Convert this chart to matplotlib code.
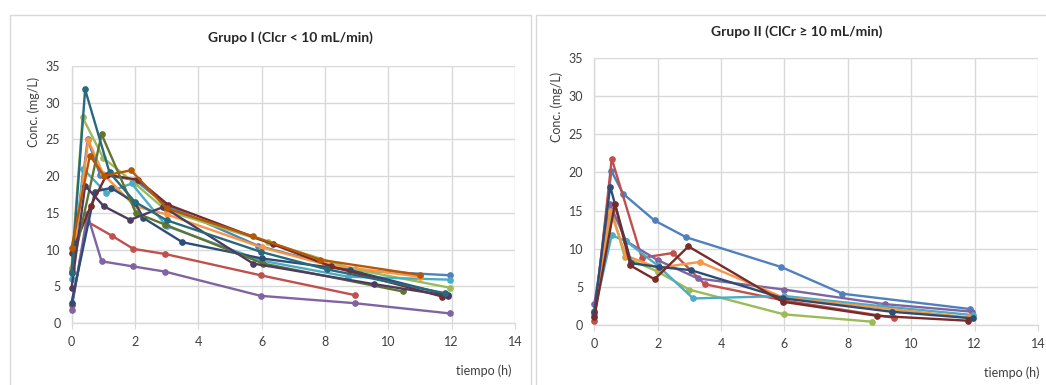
import matplotlib
matplotlib.use("Agg")
import matplotlib.pyplot as plt
from matplotlib.patches import Rectangle

plt.rcParams["font.family"] = ["Lato", "DejaVu Sans"]

# Excel 2010 palette (base colours then 50% darker variants)
COLORS = ["#4F81BD", "#C0504D", "#9BBB59", "#8064A2", "#4BACC6", "#F79646",
          "#2C4D75", "#772C2A", "#5F7530", "#4D3B62", "#276A7C", "#B65708"]

# Grupo I (Clcr < 10 mL/min): one (times, concentrations) pair per patient
g1_t = [
    [0, 0.51, 0.9, 2, 3, 5.9, 8.8, 11.95],
    [0, 0.5, 1.27, 1.95, 2.95, 5.97, 8.94],
    [0, 0.35, 1, 2, 3, 6.2, 8.95, 11.95],
    [0, 0.5, 0.95, 1.95, 2.95, 5.97, 8.94, 11.95],
    [0, 0.37, 1.1, 1.9, 3, 6, 8.73, 11.95],
    [0, 0.53, 1, 2, 3, 6, 8, 11],
    [0, 0.74, 1.25, 2, 2.27, 3.5, 6, 8.8, 11.9],
    [0, 0.6, 1.11, 2.1, 3.05, 6.37, 8.2, 11.7],
    [0, 0.95, 2.03, 2.95, 6.05, 10.45],
    [0, 0.43, 1.02, 1.85, 2.9, 5.73, 9.54, 11.9],
    [0, 0.43, 1.2, 2, 3, 5.97, 8.07, 11.8],
    [0, 0.58, 1.03, 1.88, 3, 5.73, 7.86, 11.0],
]
g1_c = [
    [7.0, 25.0, 20.2, 19.5, 16.0, 10.5, 7.2, 6.5],
    [2.45, 13.8, 11.9, 10.1, 9.4, 6.5, 3.8],
    [7.5, 28.0, 22.5, 19.0, 15.3, 11.0, 7.3, 4.8],
    [1.8, 14.8, 8.4, 7.7, 7.0, 3.7, 2.7, 1.3],
    [6.0, 21.0, 17.7, 19.0, 13.2, 8.5, 6.3, 5.9],
    [7.3, 24.9, 20.3, 15.9, 14.8, 10.3, 8.0, 6.3],
    [2.7, 17.9, 18.4, 16.4, 14.3, 11.0, 8.8, 7.2, 3.8],
    [9.5, 15.9, 20.2, 19.5, 16.1, 10.7, 7.7, 3.6],
    [7.0, 25.7, 15.0, 13.4, 8.1, 4.3],
    [4.7, 18.7, 15.9, 14.05, 15.8, 8.1, 5.3, 3.7],
    [6.8, 31.8, 20.5, 16.5, 14.0, 9.7, 7.3, 4.05],
    [10.2, 22.8, 20.05, 20.8, 15.6, 11.8, 8.6, 6.55],
]

# Grupo II (ClCr >= 10 mL/min)
g2_t = [
    [0, 0.54, 0.91, 1.9, 2.9, 5.9, 7.83, 11.85],
    [0, 0.55, 1.5, 2.49, 3.48, 6, 9.45],
    [0, 0.55, 0.96, 2, 2.99, 5.98, 8.77],
    [0, 0.5, 1, 2, 3.27, 5.98, 9.16, 11.93],
    [0, 0.55, 1, 2, 3.12, 6, 8.98, 11.95],
    [0, 0.5, 1, 2, 3.33, 5.96, 11.8],
    [0, 0.5, 1.17, 2.05, 3.04, 5.96, 9.38, 11.95],
    [0, 0.65, 1.14, 1.9, 2.97, 5.94, 8.93, 11.8],
]
g2_c = [
    [1.5, 20.2, 17.2, 13.7, 11.5, 7.6, 4.1, 2.1],
    [0.56, 21.8, 8.8, 9.45, 5.35, 3.2, 0.95],
    [1.3, 15.0, 8.9, 7.0, 4.65, 1.4, 0.43],
    [2.74, 15.8, 11.0, 8.5, 6.1, 4.65, 2.74, 1.74],
    [1.8, 11.75, 11.0, 7.8, 3.48, 3.8, 2.5, 1.3],
    [1.4, 15.0, 9.1, 7.5, 8.26, 3.6, 1.0],
    [1.7, 18.15, 8.1, 7.6, 7.2, 3.5, 1.74, 0.87],
    [1.0, 15.9, 7.8, 6.0, 10.3, 3.05, 1.2, 0.56],
]

X_TICKS = [0, 2, 4, 6, 8, 10, 12, 14]
Y_TICKS = [0, 5, 10, 15, 20, 25, 30, 35]

GRID = "#D9D9D9"
TEXT = "#404040"

fig = plt.figure(figsize=(10.46, 3.85), dpi=100)

# chart-area borders like the Excel export
fig.patches.append(Rectangle((10 / 1046, -0.05), 521 / 1046, 1 - 15 / 385 + 0.05,
                             transform=fig.transFigure, fill=False,
                             edgecolor=GRID, linewidth=1.0))
fig.patches.append(Rectangle((536 / 1046, -0.05), 520 / 1046, 1 - 15 / 385 + 0.05,
                             transform=fig.transFigure, fill=False,
                             edgecolor=GRID, linewidth=1.0))


def draw_panel(ax, times, concs):
    for t, c, col in zip(times, concs, COLORS):
        ax.plot(t, c, color=col, linewidth=1.7, marker="o", markersize=3.8,
                zorder=3, clip_on=False)
    ax.set_xlim(0, 14)
    ax.set_ylim(0, 35)
    ax.set_xticks(X_TICKS)
    ax.set_yticks(Y_TICKS)
    ax.grid(True, color=GRID, linewidth=1.0)
    ax.set_axisbelow(True)
    for side in ["top", "right"]:
        ax.spines[side].set_visible(False)
    for side in ["left", "bottom"]:
        ax.spines[side].set_color(GRID)
        ax.spines[side].set_linewidth(1.0)
    ax.tick_params(axis="both", colors=TEXT, labelsize=9, length=0, pad=8)
    ax.tick_params(axis="x", length=4, color=GRID, pad=5)


ax1 = fig.add_axes([71.5 / 1046, 1 - 323 / 385, (515 - 71.5) / 1046, (323 - 66) / 385])
draw_panel(ax1, g1_t, g1_c)
ax2 = fig.add_axes([594.3 / 1046, 1 - 325 / 385, (1038 - 594.3) / 1046, (325 - 58) / 385])
draw_panel(ax2, g2_t, g2_c)

fig.text(290 / 1046, 1 - 38 / 385, "Grupo I (Clcr < 10 mL/min)", ha="center",
         va="center", fontsize=10, fontweight="bold", color="#262626")
fig.text(797 / 1046, 1 - 32 / 385, "Grupo II (ClCr ≥ 10 mL/min)", ha="center",
         va="center", fontsize=10, fontweight="bold", color="#262626")

fig.text(34 / 1046, 1 - 112 / 385, "Conc. (mg/L)", rotation=90, ha="center",
         va="center", fontsize=9, color=TEXT)
fig.text(557 / 1046, 1 - 107 / 385, "Conc. (mg/L)", rotation=90, ha="center",
         va="center", fontsize=9, color=TEXT)

fig.text(512 / 1046, 1 - 371 / 385, "tiempo (h)", ha="right", va="center",
         fontsize=9, color=TEXT)
fig.text(1040 / 1046, 1 - 373 / 385, "tiempo (h)", ha="right", va="center",
         fontsize=9, color=TEXT)

fig.savefig("out.png", dpi=100)
